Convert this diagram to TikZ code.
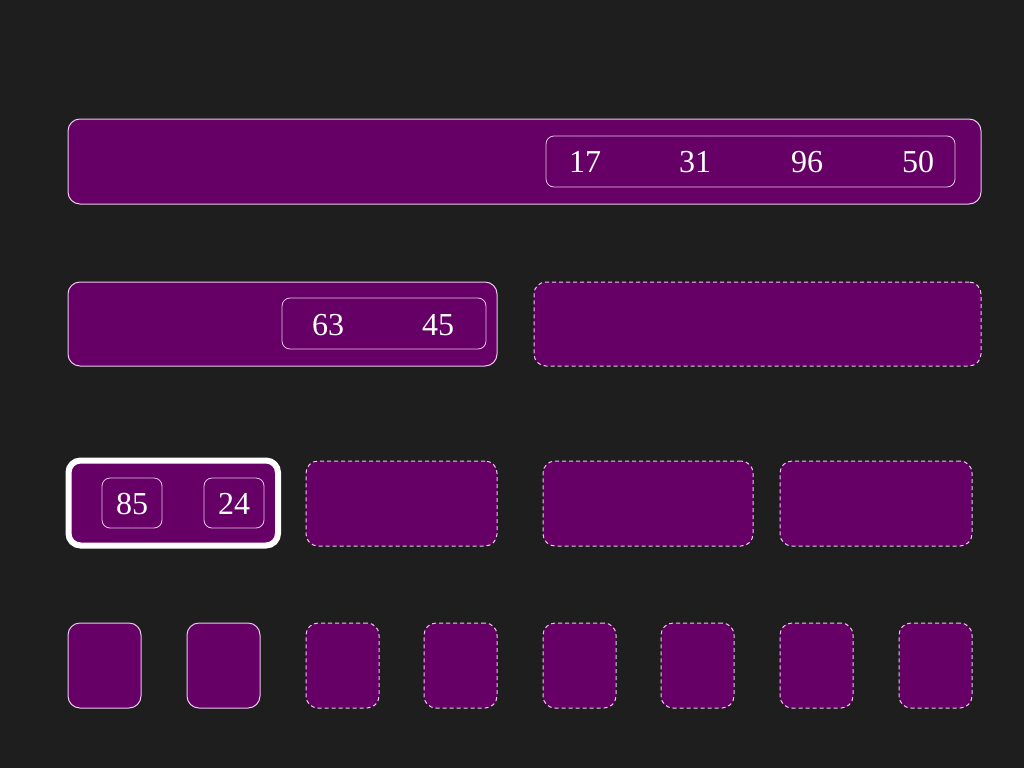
\documentclass[tikz,border=0pt]{standalone}
\usepackage{fontspec}
\setmainfont{Liberation Serif}
\definecolor{bg}{HTML}{1E1E1E}
\definecolor{fillp}{HTML}{660066}
\definecolor{edge}{HTML}{E8C8E8}
\begin{document}
\begin{tikzpicture}[x=1pt,y=-1pt,
  box/.style={draw=edge, fill=fillp, line width=1pt, rounded corners=12pt, inner sep=0pt, outer sep=0pt, anchor=north west},
  dbox/.style={box, dash pattern=on 4pt off 3pt},
  inbox/.style={draw=edge, line width=0.8pt, rounded corners=8pt, inner sep=0pt, outer sep=0pt, anchor=north west},
  num/.style={text=white, font=\fontsize{32}{32}\selectfont, inner sep=0pt}]
\fill[bg] (0,0) rectangle (1024,768);
\useasboundingbox (0,0) rectangle (1024,768);
% row 1
\node[box, minimum width=913pt, minimum height=85pt] (r1) at (68,119) {};
\node[inbox, minimum width=409pt, minimum height=51pt] (r1i) at (546,136) {};
\node[num] (n17) at (585,162) {17};
\node[num] (n31) at (695,162) {31};
\node[num] (n96) at (807,162) {96};
\node[num] (n50) at (918,162) {50};
% row 2
\node[box, minimum width=429pt, minimum height=84pt] (r2a) at (68,282) {};
\node[inbox, minimum width=204pt, minimum height=51pt] (r2ai) at (282,298) {};
\node[num] (n63) at (328,325) {63};
\node[num] (n45) at (438,325) {45};
\node[dbox, minimum width=447pt, minimum height=84pt] (r2b) at (534,282) {};
% row 3
\node[box, draw=white, line width=6pt, minimum width=209.5pt, minimum height=85pt] (r3a) at (68.5,460.5) {};
\node[inbox, minimum width=60pt, minimum height=50pt] (b85) at (102,478) {};
\node[inbox, minimum width=60pt, minimum height=50pt] (b24) at (204,478) {};
\node[num] (n85) at (132,504) {85};
\node[num] (n24) at (234,504) {24};
\node[dbox, minimum width=191pt, minimum height=85pt] (r3b) at (306,461) {};
\node[dbox, minimum width=210pt, minimum height=85pt] (r3c) at (543,461) {};
\node[dbox, minimum width=192pt, minimum height=85pt] (r3d) at (780,461) {};
% row 4
\node[box, minimum width=73pt, minimum height=85pt] (r4a) at (68,623) {};
\node[box, minimum width=73pt, minimum height=85pt] (r4b) at (187,623) {};
\node[dbox, minimum width=73pt, minimum height=85pt] (r4c) at (306,623) {};
\node[dbox, minimum width=73pt, minimum height=85pt] (r4d) at (424,623) {};
\node[dbox, minimum width=73pt, minimum height=85pt] (r4e) at (543,623) {};
\node[dbox, minimum width=73pt, minimum height=85pt] (r4f) at (661,623) {};
\node[dbox, minimum width=73pt, minimum height=85pt] (r4g) at (780,623) {};
\node[dbox, minimum width=73pt, minimum height=85pt] (r4h) at (899,623) {};
\end{tikzpicture}
\end{document}
